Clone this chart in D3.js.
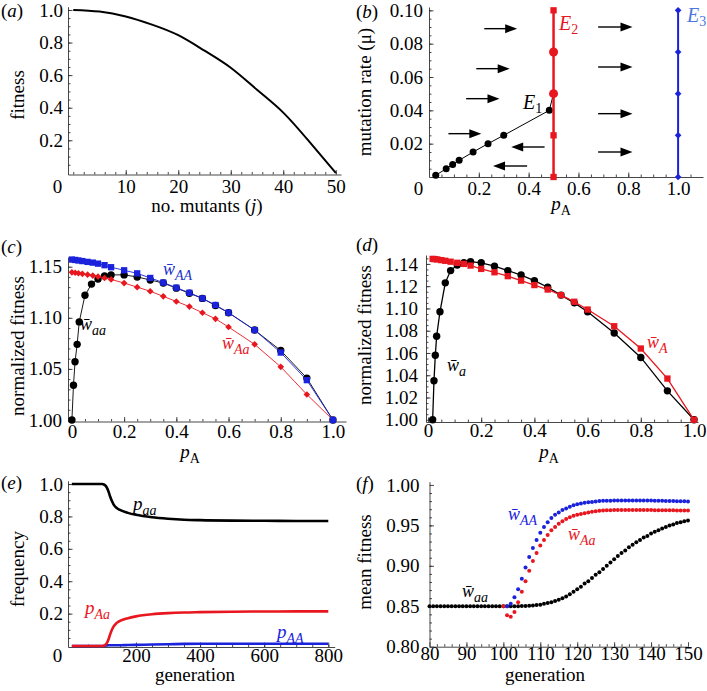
<!DOCTYPE html>
<html>
<head>
<meta charset="utf-8">
<script src="https://cdn.jsdelivr.net/npm/d3@7"></script>
<style>
  body { margin: 0; background: #fff; }
  svg, svg text { font-family: 'Liberation Serif', 'DejaVu Serif', 'Noto Serif', 'Times New Roman', Times, serif; }
</style>
</head>
<body>
<div id="chart"></div>
<script>
// ---------- data ----------
// (a) fitness vs number of mutants
const mutants = [0, 5, 10, 15, 20, 25, 30, 35, 40, 45, 50];
const fitness = [1.0, 0.99, 0.96, 0.91, 0.845, 0.75, 0.645, 0.51, 0.37, 0.19, 0.0];
const aXTicks = [10, 20, 30, 40, 50];
const aYTicks = [0.2, 0.4, 0.6, 0.8, 1.0];

// (b) equilibria
const e1P  = [0.027, 0.069, 0.095, 0.121, 0.177, 0.237, 0.30, 0.483, 0.5];
const e1Mu = [0.001, 0.005, 0.0075, 0.010, 0.015, 0.020, 0.025, 0.040, 0.050];
const e2P = 0.5, e3P = 1.0;
const eqMu = [0, 0.025, 0.05, 0.075, 0.1];
const e2Marker = ["square", "square", "circle", "circle", "square"];
const arrowFromP = [0.222, 0.19, 0.149, 0.078, 0.464, 0.394, 0.679, 0.679, 0.679, 0.679];
const arrowToP   = [0.354, 0.324, 0.283, 0.21, 0.33, 0.257, 0.817, 0.817, 0.817, 0.817];
const arrowMu    = [0.089, 0.065, 0.047, 0.026, 0.018, 0.0066, 0.090, 0.066, 0.038, 0.015];
const bXTicks = [0.2, 0.4, 0.6, 0.8, 1.0];
const bYTicks = [0.02, 0.04, 0.06, 0.08, 0.10];

// (c) normalized fitness of aa, Aa, AA
const cBlackP = [0, 0.006, 0.012, 0.02, 0.028, 0.05, 0.075, 0.1, 0.125, 0.15, 0.2, 0.25, 0.3, 0.35, 0.4, 0.45, 0.5, 0.55, 0.6, 0.7, 0.8, 0.9, 1.0];
const cWaa    = [1.0, 1.034, 1.057, 1.074, 1.096, 1.122, 1.133, 1.138, 1.141, 1.142, 1.142, 1.140, 1.137, 1.134, 1.129, 1.124, 1.119, 1.112, 1.105, 1.088, 1.068, 1.041, 1.0];
const cP   = [0, 0.0125, 0.025, 0.04, 0.06, 0.08, 0.1, 0.125, 0.15, 0.2, 0.25, 0.3, 0.35, 0.4, 0.45, 0.5, 0.55, 0.6, 0.7, 0.8, 0.9, 1.0];
const cWAA = [1.157, 1.1566, 1.1561, 1.1555, 1.1547, 1.154, 1.153, 1.1515, 1.1495, 1.1465, 1.1435, 1.139, 1.1345, 1.1295, 1.1245, 1.119, 1.1125, 1.105, 1.088, 1.066, 1.039, 1.0];
const cWAa = [1.1445, 1.1441, 1.1436, 1.143, 1.1422, 1.1413, 1.1403, 1.139, 1.1376, 1.134, 1.130, 1.126, 1.121, 1.116, 1.111, 1.105, 1.099, 1.091, 1.074, 1.052, 1.025, 1.0];
const cYTicks = [1.00, 1.05, 1.10, 1.15];
const pTicks = [0, 0.2, 0.4, 0.6, 0.8, 1.0];

// (d) normalized fitness of a and A
const dBlackP = [0.0175, 0.0225, 0.0275, 0.0325, 0.045, 0.065, 0.085, 0.11, 0.135, 0.16, 0.2, 0.25, 0.3, 0.35, 0.4, 0.45, 0.5, 0.55, 0.6, 0.7, 0.8, 0.9, 1.0];
const dWa     = [1.0, 1.035, 1.058, 1.075, 1.097, 1.123, 1.134, 1.139, 1.141, 1.142, 1.141, 1.138, 1.134, 1.130, 1.125, 1.119, 1.112, 1.105, 1.097, 1.078, 1.056, 1.026, 1.0];
const dRedP = [0.0175, 0.025, 0.035, 0.05, 0.065, 0.085, 0.11, 0.135, 0.16, 0.2, 0.25, 0.3, 0.35, 0.4, 0.45, 0.5, 0.55, 0.6, 0.7, 0.8, 0.9, 1.0];
const dWA   = [1.1445, 1.1443, 1.144, 1.1434, 1.1428, 1.142, 1.141, 1.140, 1.1385, 1.1355, 1.1325, 1.129, 1.125, 1.121, 1.117, 1.112, 1.106, 1.099, 1.084, 1.064, 1.037, 1.0];
const dYTicks = [1.00, 1.02, 1.04, 1.06, 1.08, 1.10, 1.12, 1.14];

// (e) genotype frequencies over generations
const eGen = [0, 50, 95, 100, 105, 110, 115, 120, 125, 130, 140, 150, 175, 200, 250, 300, 350, 400, 500, 600, 700, 800];
const ePaa = [1, 1, 1, 0.997, 0.99, 0.975, 0.95, 0.92, 0.895, 0.875, 0.852, 0.84, 0.822, 0.81, 0.795, 0.786, 0.78, 0.777, 0.774, 0.773, 0.772, 0.772];
const ePAa = [0, 0, 0, 0.002, 0.008, 0.021, 0.045, 0.075, 0.1, 0.12, 0.143, 0.155, 0.172, 0.183, 0.196, 0.203, 0.207, 0.209, 0.212, 0.213, 0.214, 0.214];
const ePAA = [0, 0, 0, 0.001, 0.002, 0.004, 0.005, 0.005, 0.005, 0.005, 0.005, 0.005, 0.006, 0.007, 0.009, 0.011, 0.013, 0.014, 0.014, 0.014, 0.014, 0.014];
const eXTicks = [200, 400, 600, 800];
const eYTicks = [0.2, 0.4, 0.6, 0.8, 1.0];

// (f) mean fitness per generation
const fGen = d3.range(80, 151);
const fWaa = [0.85, 0.85, 0.85, 0.85, 0.85, 0.85, 0.85, 0.85, 0.85, 0.85,
  0.85, 0.85, 0.85, 0.85, 0.85, 0.85, 0.85, 0.85, 0.85, 0.85,
  0.85, 0.85, 0.85, 0.85, 0.85,
  0.8502, 0.8504, 0.8507, 0.851, 0.8515, 0.852, 0.853, 0.854, 0.855, 0.8565, 0.858,
  0.860, 0.862, 0.865, 0.868, 0.871, 0.874, 0.878, 0.881, 0.885, 0.889,
  0.892, 0.896, 0.900, 0.904, 0.908, 0.912, 0.916, 0.919, 0.923, 0.926,
  0.929, 0.932, 0.935, 0.937, 0.940, 0.942, 0.944, 0.946, 0.948, 0.950,
  0.951, 0.953, 0.954, 0.955, 0.956];
const fGenAa = d3.range(100, 151);
const fWAa = [0.850, 0.839, 0.837, 0.843, 0.855, 0.868, 0.881, 0.894, 0.906, 0.916,
  0.925, 0.932, 0.938, 0.944, 0.948, 0.952, 0.955, 0.958, 0.960, 0.962,
  0.963, 0.964, 0.965, 0.966, 0.967, 0.9675, 0.968, 0.9683, 0.9686, 0.9688,
  0.969, 0.969, 0.969, 0.969, 0.969, 0.969, 0.969, 0.969, 0.969, 0.969, 0.969,
  0.9688, 0.9688, 0.9687, 0.9687, 0.9686, 0.9686, 0.9685, 0.9685, 0.9684, 0.9684];
const fGenAA = d3.range(101, 151);
const fWAA = [0.850, 0.853, 0.861, 0.871, 0.884, 0.898, 0.911, 0.922, 0.932, 0.941,
  0.948, 0.954, 0.959, 0.963, 0.966, 0.969, 0.971, 0.973, 0.975, 0.976,
  0.977, 0.978, 0.9785, 0.979, 0.9795, 0.980, 0.9803, 0.9805, 0.9806, 0.9807,
  0.9807, 0.9807, 0.9807, 0.9807, 0.9807, 0.9807, 0.9807, 0.9807, 0.9807, 0.9807,
  0.9805, 0.9804, 0.9803, 0.9802, 0.9801, 0.980, 0.9799, 0.9798, 0.9797, 0.9796];
const fXTicks = [80, 90, 100, 110, 120, 130, 140, 150];
const fYTicks = [0.80, 0.85, 0.90, 0.95, 1.00];

// ---------- drawing ----------
const FONT = "'Liberation Serif', 'DejaVu Serif', 'Noto Serif', 'Times New Roman', Times, serif";
const RED = "#e8161e", BLUE = "#1a22dc", AXIS = "#333";

const svg = d3.select("#chart").append("svg")
  .attr("width", 707)
  .attr("height", 691)
  .style("font-family", FONT);

function styleAxis(sel) {
  sel.attr("font-family", null).attr("font-size", 19);
  sel.selectAll("line, path").attr("stroke", AXIS).attr("stroke-width", 0.9);
  sel.selectAll("text").attr("fill", "#000");
}

function makePanel(c) {
  const x = d3.scaleLinear().domain(c.xDomain).range(c.xRange);
  const y = d3.scaleLinear().domain(c.yDomain).range(c.yRange);
  const g = svg.append("g");
  const x0 = c.xRange[0], y0 = c.yRange[0];

  // minor ticks
  g.append("g").attr("transform", `translate(0,${y0})`)
    .call(d3.axisBottom(x).tickValues(c.xMinor).tickSize(-2.5).tickFormat(""))
    .call(s => s.select(".domain").remove())
    .call(styleAxis);
  g.append("g").attr("transform", `translate(${x0},0)`)
    .call(d3.axisLeft(y).tickValues(c.yMinor).tickSize(-2.5).tickFormat(""))
    .call(s => s.select(".domain").remove())
    .call(styleAxis);

  // major ticks + axis lines
  g.append("g").attr("transform", `translate(0,${y0})`)
    .call(d3.axisBottom(x).tickValues(c.xTicks).tickFormat(c.xFormat).tickSize(-4.5).tickSizeOuter(0))
    .call(styleAxis)
    .call(s => s.selectAll(".tick text").attr("dy", null).attr("y", c.xLabelDy));
  g.append("g").attr("transform", `translate(${x0},0)`)
    .call(d3.axisLeft(y).tickValues(c.yTicks).tickFormat(c.yFormat).tickSize(-4.5).tickSizeOuter(0).tickPadding(c.yPad))
    .call(styleAxis);

  if (c.originZero) {
    g.append("text").attr("x", x0 - 10.5).attr("y", y0 + c.xLabelDy)
      .attr("text-anchor", "middle").attr("font-size", 19).text("0");
  }

  // panel tag
  const tag = g.append("text").attr("x", c.tagX).attr("y", c.tagY).attr("font-size", 19);
  tag.append("tspan").text("(");
  tag.append("tspan").attr("font-style", "italic").text(c.tag);
  tag.append("tspan").text(")");

  // y title
  g.append("text")
    .attr("transform", `translate(${c.yTitleX},${c.yTitleY}) rotate(-90)`)
    .attr("text-anchor", "middle").attr("font-size", 19)
    .text(c.yTitle);

  return { g, x, y };
}

function subLabel(g, x, y, base, sub, color, o = {}) {
  const t = g.append("text").attr("x", x).attr("y", y).attr("fill", color)
    .attr("font-size", o.size || 19).attr("text-anchor", o.anchor || "start");
  t.append("tspan").attr("font-style", "italic").text(base);
  t.append("tspan").attr("font-style", o.subItalic === false ? "normal" : "italic")
    .attr("font-size", o.subSize || 14).attr("dy", o.dy || 5).text(sub);
  return t;
}

const sq = d3.symbol().type(d3.symbolSquare);
const fmt1 = d3.format(".1f"), fmt2 = d3.format(".2f");
const pFmt = p => (p === 0 ? "0" : fmt1(p));

// ===== (a) =====
const pa = makePanel({
  xDomain: [-1, 51], xRange: [68, 341],
  yDomain: [-0.01, 1.02], yRange: [174.5, 6.7],
  xTicks: aXTicks, xFormat: d3.format("d"), xMinor: d3.range(0, 51, 2),
  yTicks: aYTicks, yFormat: fmt1, yMinor: d3.range(0.05, 1.01, 0.05), yPad: 5,
  xLabelDy: 18, originZero: true,
  tag: "a", tagX: 1, tagY: 17,
  yTitle: "fitness", yTitleX: 24, yTitleY: 95
});
pa.g.append("path")
  .datum(mutants.map((j, i) => [j, fitness[i]]))
  .attr("fill", "none").attr("stroke", "#000").attr("stroke-width", 2)
  .attr("d", d3.line().x(d => pa.x(d[0])).y(d => pa.y(d[1])).curve(d3.curveNatural));
{
  const t = pa.g.append("text").attr("x", 207).attr("y", 212).attr("text-anchor", "middle").attr("font-size", 19);
  t.append("tspan").text("no. mutants (");
  t.append("tspan").attr("font-style", "italic").text("j");
  t.append("tspan").text(")");
}

// ===== (b) =====
const pb = makePanel({
  xDomain: [0, 1.1], xRange: [429, 703],
  yDomain: [0, 0.102], yRange: [177, 7],
  xTicks: bXTicks, xFormat: fmt1, xMinor: d3.range(0.05, 1.1, 0.05),
  yTicks: bYTicks, yFormat: fmt2, yMinor: d3.range(0.005, 0.101, 0.005), yPad: 6,
  xLabelDy: 18, originZero: true,
  tag: "b", tagX: 356, tagY: 18,
  yTitle: "mutation rate (\u03bc)", yTitleX: 371, yTitleY: 92
});
subLabel(pb.g, 561, 210, "p", "A", "#000", { anchor: "middle", subItalic: false });

// arrows
arrowFromP.forEach((p0, i) => {
  const xa = pb.x(p0), xb = pb.x(arrowToP[i]), yy = pb.y(arrowMu[i]);
  const dir = Math.sign(xb - xa);
  pb.g.append("line").attr("x1", xa).attr("x2", xb - dir * 8).attr("y1", yy).attr("y2", yy)
    .attr("stroke", "#000").attr("stroke-width", 1.4);
  pb.g.append("path")
    .attr("d", `M${xb},${yy}L${xb - dir * 12},${yy - 4.5}L${xb - dir * 12},${yy + 4.5}Z`)
    .attr("fill", "#000");
});

// E1 branch
pb.g.append("path")
  .datum(e1P.map((p, i) => [p, e1Mu[i]]))
  .attr("fill", "none").attr("stroke", "#000").attr("stroke-width", 1)
  .attr("d", d3.line().x(d => pb.x(d[0])).y(d => pb.y(d[1])));
pb.g.selectAll(".e1").data(e1P.slice(0, -1)).join("circle")
  .attr("cx", d => pb.x(d)).attr("cy", (d, i) => pb.y(e1Mu[i])).attr("r", 3.5).attr("fill", "#000");

// E2 line
pb.g.append("line").attr("x1", pb.x(e2P)).attr("x2", pb.x(e2P))
  .attr("y1", pb.y(d3.min(eqMu))).attr("y2", pb.y(d3.max(eqMu)))
  .attr("stroke", RED).attr("stroke-width", 2.5);
eqMu.forEach((m, i) => {
  if (e2Marker[i] === "circle") {
    pb.g.append("circle").attr("cx", pb.x(e2P)).attr("cy", pb.y(m)).attr("r", 4.5).attr("fill", RED);
  } else {
    pb.g.append("path").attr("d", sq.size(40)()).attr("fill", RED)
      .attr("transform", `translate(${pb.x(e2P)},${pb.y(m)})`);
  }
});
// E3 line
pb.g.append("line").attr("x1", pb.x(e3P)).attr("x2", pb.x(e3P))
  .attr("y1", pb.y(d3.min(eqMu))).attr("y2", pb.y(d3.max(eqMu)))
  .attr("stroke", BLUE).attr("stroke-width", 2);
pb.g.selectAll(".e3").data(eqMu).join("path")
  .attr("d", sq.size(22)()).attr("fill", BLUE)
  .attr("transform", d => `translate(${pb.x(e3P)},${pb.y(d)}) rotate(45)`);

subLabel(pb.g, 523, 109, "E", "1", "#000", { size: 20, subItalic: false, dy: 4 });
subLabel(pb.g, 559, 30, "E", "2", RED, { size: 20, subItalic: false, dy: 4 });
subLabel(pb.g, 687, 22, "E", "3", "#4a78e0", { size: 20, subItalic: false, dy: 4 });

// ===== (c) =====
const pc = makePanel({
  xDomain: [-0.015, 1.05], xRange: [68, 346],
  yDomain: [0.99853, 1.1595], yRange: [421.5, 257],
  xTicks: pTicks, xFormat: pFmt, xMinor: d3.range(0.05, 1.05, 0.05),
  yTicks: cYTicks, yFormat: fmt2, yMinor: d3.range(1.01, 1.16, 0.01), yPad: 6,
  xLabelDy: 16,
  tag: "c", tagX: 1, tagY: 253,
  yTitle: "normalized fitness", yTitleX: 24, yTitleY: 346
});
subLabel(pc.g, 190, 458, "p", "A", "#000", { anchor: "middle", subItalic: false });

const lineC = d3.line().x(d => pc.x(d[0])).y(d => pc.y(d[1]));
pc.g.append("path").datum(cBlackP.map((p, i) => [p, cWaa[i]]))
  .attr("fill", "none").attr("stroke", "#000").attr("stroke-width", 0.9).attr("d", lineC);
pc.g.selectAll(".cb").data(cBlackP).join("circle")
  .attr("cx", d => pc.x(d)).attr("cy", (d, i) => pc.y(cWaa[i])).attr("r", 3.7).attr("fill", "#000");
pc.g.append("path").datum(cP.map((p, i) => [p, cWAa[i]]))
  .attr("fill", "none").attr("stroke", RED).attr("stroke-width", 0.9).attr("d", lineC);
pc.g.selectAll(".cr").data(cP).join("path")
  .attr("d", sq.size(22)()).attr("fill", RED)
  .attr("transform", (d, i) => `translate(${pc.x(d)},${pc.y(cWAa[i])}) rotate(45)`);
pc.g.append("path").datum(cP.map((p, i) => [p, cWAA[i]]))
  .attr("fill", "none").attr("stroke", BLUE).attr("stroke-width", 0.9).attr("d", lineC);
pc.g.selectAll(".cu").data(cP).join("path")
  .attr("d", sq.size(40)()).attr("fill", BLUE)
  .attr("transform", (d, i) => `translate(${pc.x(d)},${pc.y(cWAA[i])})`);

subLabel(pc.g, 80, 330, "w\u0304", "aa", "#000", { size: 18 });
subLabel(pc.g, 163, 275, "w\u0304", "AA", "#2233c8", { size: 18 });
subLabel(pc.g, 222, 349, "w\u0304", "Aa", RED, { size: 18 });

// ===== (d) =====
const pd = makePanel({
  xDomain: [-0.0075, 1.015], xRange: [426, 698],
  yDomain: [0.998, 1.148], yRange: [422, 255],
  xTicks: pTicks, xFormat: pFmt, xMinor: d3.range(0.05, 1.01, 0.05),
  yTicks: dYTicks, yFormat: fmt2, yMinor: d3.range(1.005, 1.146, 0.005), yPad: 8,
  xLabelDy: 15,
  tag: "d", tagX: 356, tagY: 251,
  yTitle: "normalized fitness", yTitleX: 371, yTitleY: 335
});
subLabel(pd.g, 549, 458, "p", "A", "#000", { anchor: "middle", subItalic: false });

const lineD = d3.line().x(d => pd.x(d[0])).y(d => pd.y(d[1]));
pd.g.append("path").datum(dBlackP.map((p, i) => [p, dWa[i]]))
  .attr("fill", "none").attr("stroke", "#000").attr("stroke-width", 1.3).attr("d", lineD);
pd.g.selectAll(".db").data(dBlackP).join("circle")
  .attr("cx", d => pd.x(d)).attr("cy", (d, i) => pd.y(dWa[i])).attr("r", 3.7).attr("fill", "#000");
pd.g.append("path").datum(dRedP.map((p, i) => [p, dWA[i]]))
  .attr("fill", "none").attr("stroke", RED).attr("stroke-width", 1.3).attr("d", lineD);
pd.g.selectAll(".dr").data(dRedP).join("path")
  .attr("d", sq.size(40)()).attr("fill", RED)
  .attr("transform", (d, i) => `translate(${pd.x(d)},${pd.y(dWA[i])})`);

subLabel(pd.g, 447, 371, "w\u0304", "a", "#000", { size: 18 });
subLabel(pd.g, 647, 348, "w\u0304", "A", RED, { size: 18 });

// ===== (e) =====
const pe = makePanel({
  xDomain: [-12, 820], xRange: [68, 334.7],
  yDomain: [-0.006, 1.02], yRange: [647, 480.8],
  xTicks: eXTicks, xFormat: d3.format("d"), xMinor: d3.range(50, 801, 50),
  yTicks: eYTicks, yFormat: fmt1, yMinor: d3.range(0.05, 1.01, 0.05), yPad: 5,
  xLabelDy: 15, originZero: true,
  tag: "e", tagX: 1, tagY: 489,
  yTitle: "frequency", yTitleX: 24, yTitleY: 569
});
pe.g.append("text").attr("x", 195).attr("y", 681).attr("text-anchor", "middle")
  .attr("font-size", 19).text("generation");

const lineE = d3.line().x((d, i) => pe.x(eGen[i])).y(d => pe.y(d)).curve(d3.curveMonotoneX);
[[ePAA, BLUE], [ePAa, RED], [ePaa, "#000"]].forEach(([s, col]) => {
  pe.g.append("path").datum(s).attr("fill", "none").attr("stroke", col)
    .attr("stroke-width", 2.6).attr("d", lineE);
});
subLabel(pe.g, 133, 510, "p", "aa", "#000");
subLabel(pe.g, 85, 614, "p", "Aa", RED);
subLabel(pe.g, 277, 638, "p", "AA", BLUE);

// ===== (f) =====
const pf = makePanel({
  xDomain: [80, 150], xRange: [429.5, 688],
  yDomain: [0.80, 1.004], yRange: [646.7, 481.7],
  xTicks: fXTicks, xFormat: d3.format("d"), xMinor: d3.range(82, 150, 2),
  yTicks: fYTicks, yFormat: fmt2, yMinor: d3.range(0.81, 1.0, 0.01), yPad: 10,
  xLabelDy: 13,
  tag: "f", tagX: 356, tagY: 490,
  yTitle: "mean fitness", yTitleX: 371, yTitleY: 562
});
pf.g.append("text").attr("x", 545).attr("y", 681).attr("text-anchor", "middle")
  .attr("font-size", 19).text("generation");

[[fGen, fWaa, "#000"], [fGenAa, fWAa, RED], [fGenAA, fWAA, BLUE]].forEach(([gens, vals, col]) => {
  pf.g.append("g").selectAll("circle").data(vals).join("circle")
    .attr("cx", (d, i) => pf.x(gens[i])).attr("cy", d => pf.y(d))
    .attr("r", 2).attr("fill", col);
});
subLabel(pf.g, 462, 597, "w\u0304", "aa", "#000", { size: 18 });
subLabel(pf.g, 508, 520, "w\u0304", "AA", BLUE, { size: 18 });
subLabel(pf.g, 568, 540, "w\u0304", "Aa", RED, { size: 18 });
</script>
</body>
</html>
